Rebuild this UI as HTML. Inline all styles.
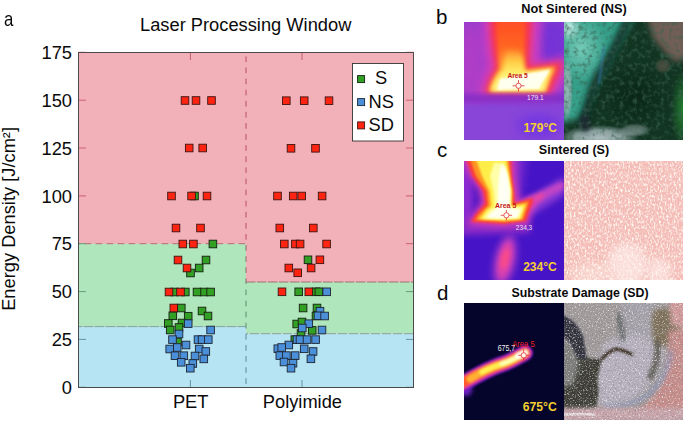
<!DOCTYPE html>
<html><head><meta charset="utf-8"><style>
html,body{margin:0;padding:0;background:#fff;}
body{width:685px;height:422px;position:relative;overflow:hidden;font-family:"Liberation Sans",sans-serif;}
.chart{position:absolute;left:0;top:0;}
.lbl{position:absolute;font-size:20.5px;line-height:24px;color:#0a0a0a;}
.ttl{position:absolute;font-weight:bold;font-size:13.2px;line-height:16px;color:#0a0a0a;white-space:nowrap;transform:translateX(-50%) scaleX(0.95);}
.ph{position:absolute;overflow:hidden;}
.ar{font-family:"Liberation Sans",sans-serif;font-size:7.4px;font-weight:bold;fill:#c41818;}
.tv{font-family:"Liberation Sans",sans-serif;font-size:7.2px;fill:#ece4f4;}
.tc{font-family:"Liberation Sans",sans-serif;font-weight:bold;font-size:13.5px;fill:#f4d030;text-anchor:middle;}
</style></head><body>
<div class="lbl" style="left:4.2px;top:6.5px;font-size:21px;transform:scaleX(0.8);transform-origin:0 0">a</div>
<svg class="chart" width="420" height="422" viewBox="0 0 420 422">
<defs><style>
.g{fill:#32a024;stroke:#142012;stroke-width:0.9}
.b{fill:#4a8fd8;stroke:#1d2533;stroke-width:0.9}
.r{fill:#ff2412;stroke:#3a1410;stroke-width:0.9}
text{font-family:"Liberation Sans",sans-serif;fill:#0a0a0a}
</style></defs>
<rect x="78.5" y="52.5" width="335.0" height="335.0" fill="#f2b1b9"/>
<rect x="78.5" y="243.7" width="167.5" height="82.9" fill="#b0e6bc"/>
<rect x="78.5" y="326.6" width="167.5" height="60.9" fill="#b6e4f2"/>
<rect x="246.0" y="282.0" width="167.5" height="51.7" fill="#b0e6bc"/>
<rect x="246.0" y="333.7" width="167.5" height="53.8" fill="#b6e4f2"/>
<line x1="78.5" y1="243.7" x2="246.0" y2="243.7" stroke="#b86a76" stroke-width="1" stroke-dasharray="6.6,4.4" stroke-dashoffset="-6.1"/>
<line x1="78.5" y1="326.6" x2="246.0" y2="326.6" stroke="#82a49a" stroke-width="1" stroke-dasharray="9.7,1.3" stroke-dashoffset="-5"/>
<line x1="246.0" y1="282.0" x2="413.5" y2="282.0" stroke="#a07070" stroke-width="1" stroke-dasharray="9.5,1.5" stroke-dashoffset="0"/>
<line x1="246.0" y1="333.7" x2="413.5" y2="333.7" stroke="#8aa49c" stroke-width="1" stroke-dasharray="9,2" stroke-dashoffset="-4"/>
<line x1="246.0" y1="52.5" x2="246.0" y2="243.7" stroke="#b8505e" stroke-width="1" stroke-dasharray="5.7,5.4" stroke-dashoffset="7.2"/>
<line x1="246.0" y1="243.7" x2="246.0" y2="282.0" stroke="#8a6a6a" stroke-width="1" stroke-dasharray="5.7,5.4" stroke-dashoffset="198.4"/>
<line x1="246.0" y1="282.0" x2="246.0" y2="326.6" stroke="#5e8a6c" stroke-width="1" stroke-dasharray="5.7,5.4" stroke-dashoffset="236.7"/>
<line x1="246.0" y1="326.6" x2="246.0" y2="333.7" stroke="#5e8a7c" stroke-width="1" stroke-dasharray="5.7,5.4" stroke-dashoffset="281.3"/>
<line x1="246.0" y1="333.7" x2="246.0" y2="387.5" stroke="#5e8696" stroke-width="1" stroke-dasharray="5.7,5.4" stroke-dashoffset="288.4"/>
<line x1="78.5" y1="387.3" x2="86.0" y2="387.3" stroke="#6a92a4" stroke-width="1"/>
<line x1="406.0" y1="387.3" x2="413.5" y2="387.3" stroke="#6a92a4" stroke-width="1"/>
<text x="72" y="393.9" font-size="18.3" text-anchor="end">0</text>
<line x1="78.5" y1="339.4" x2="86.0" y2="339.4" stroke="#6a92a4" stroke-width="1"/>
<line x1="406.0" y1="339.4" x2="413.5" y2="339.4" stroke="#6a92a4" stroke-width="1"/>
<text x="72" y="346.0" font-size="18.3" text-anchor="end">25</text>
<line x1="78.5" y1="291.6" x2="86.0" y2="291.6" stroke="#6a9a78" stroke-width="1"/>
<line x1="406.0" y1="291.6" x2="413.5" y2="291.6" stroke="#6a9a78" stroke-width="1"/>
<text x="72" y="298.2" font-size="18.3" text-anchor="end">50</text>
<line x1="78.5" y1="243.7" x2="86.0" y2="243.7" stroke="#6a9a78" stroke-width="1"/>
<line x1="406.0" y1="243.7" x2="413.5" y2="243.7" stroke="#c8606e" stroke-width="1"/>
<text x="72" y="250.3" font-size="18.3" text-anchor="end">75</text>
<line x1="78.5" y1="195.9" x2="86.0" y2="195.9" stroke="#c8606e" stroke-width="1"/>
<line x1="406.0" y1="195.9" x2="413.5" y2="195.9" stroke="#c8606e" stroke-width="1"/>
<text x="72" y="202.5" font-size="18.3" text-anchor="end">100</text>
<line x1="78.5" y1="148.0" x2="86.0" y2="148.0" stroke="#c8606e" stroke-width="1"/>
<line x1="406.0" y1="148.0" x2="413.5" y2="148.0" stroke="#c8606e" stroke-width="1"/>
<text x="72" y="154.6" font-size="18.3" text-anchor="end">125</text>
<line x1="78.5" y1="100.2" x2="86.0" y2="100.2" stroke="#c8606e" stroke-width="1"/>
<line x1="406.0" y1="100.2" x2="413.5" y2="100.2" stroke="#c8606e" stroke-width="1"/>
<text x="72" y="106.8" font-size="18.3" text-anchor="end">150</text>
<line x1="78.5" y1="52.3" x2="86.0" y2="52.3" stroke="#c8606e" stroke-width="1"/>
<line x1="406.0" y1="52.3" x2="413.5" y2="52.3" stroke="#c8606e" stroke-width="1"/>
<text x="72" y="58.9" font-size="18.3" text-anchor="end">175</text>
<line x1="190.4" y1="380.0" x2="190.4" y2="387.5" stroke="#6a92a4" stroke-width="1"/>
<line x1="190.4" y1="52.5" x2="190.4" y2="60.0" stroke="#c8606e" stroke-width="1"/>
<line x1="302" y1="380.0" x2="302" y2="387.5" stroke="#6a92a4" stroke-width="1"/>
<line x1="302" y1="52.5" x2="302" y2="60.0" stroke="#c8606e" stroke-width="1"/>
<rect class="g" x="190.7" y="192.2" width="7.6" height="7.6"/><rect class="g" x="209.1" y="240.2" width="7.6" height="7.6"/><rect class="g" x="202.2" y="256.2" width="7.6" height="7.6"/><rect class="g" x="186.7" y="269.2" width="7.6" height="7.6"/><rect class="g" x="195.4" y="264.2" width="7.6" height="7.6"/><rect class="g" x="170.7" y="288.2" width="7.6" height="7.6"/><rect class="g" x="181.5" y="288.2" width="7.6" height="7.6"/><rect class="g" x="200.2" y="288.2" width="7.6" height="7.6"/><rect class="g" x="206.8" y="288.2" width="7.6" height="7.6"/><rect class="g" x="193.2" y="288.2" width="7.6" height="7.6"/><rect class="g" x="177.5" y="304.2" width="7.6" height="7.6"/><rect class="g" x="198.2" y="307.2" width="7.6" height="7.6"/><rect class="g" x="204.2" y="312.2" width="7.6" height="7.6"/><rect class="g" x="169.0" y="312.0" width="7.6" height="7.6"/><rect class="g" x="184.4" y="312.4" width="7.6" height="7.6"/><rect class="g" x="178.2" y="319.2" width="7.6" height="7.6"/><rect class="g" x="164.5" y="319.7" width="7.6" height="7.6"/><rect class="g" x="175.2" y="323.7" width="7.6" height="7.6"/><rect class="g" x="166.4" y="326.2" width="7.6" height="7.6"/><rect class="g" x="173.7" y="338.2" width="7.6" height="7.6"/><rect class="g" x="304.2" y="256.0" width="7.6" height="7.6"/><rect class="g" x="294.9" y="288.0" width="7.6" height="7.6"/><rect class="g" x="312.2" y="288.0" width="7.6" height="7.6"/><rect class="g" x="315.1" y="288.0" width="7.6" height="7.6"/><rect class="g" x="299.3" y="304.2" width="7.6" height="7.6"/><rect class="g" x="313.2" y="304.2" width="7.6" height="7.6"/><rect class="g" x="312.2" y="312.2" width="7.6" height="7.6"/><rect class="g" x="292.9" y="320.2" width="7.6" height="7.6"/><rect class="g" x="298.2" y="318.2" width="7.6" height="7.6"/><rect class="g" x="308.4" y="326.6" width="7.6" height="7.6"/><rect class="g" x="297.2" y="329.7" width="7.6" height="7.6"/><rect class="g" x="291.0" y="335.8" width="7.6" height="7.6"/>
<rect class="b" x="184.4" y="319.8" width="7.6" height="7.6"/><rect class="b" x="206.8" y="326.2" width="7.6" height="7.6"/><rect class="b" x="175.2" y="330.2" width="7.6" height="7.6"/><rect class="b" x="168.7" y="335.8" width="7.6" height="7.6"/><rect class="b" x="194.2" y="335.8" width="7.6" height="7.6"/><rect class="b" x="198.3" y="335.8" width="7.6" height="7.6"/><rect class="b" x="204.5" y="335.8" width="7.6" height="7.6"/><rect class="b" x="182.2" y="341.2" width="7.6" height="7.6"/><rect class="b" x="165.9" y="345.2" width="7.6" height="7.6"/><rect class="b" x="173.4" y="343.7" width="7.6" height="7.6"/><rect class="b" x="195.4" y="345.2" width="7.6" height="7.6"/><rect class="b" x="202.0" y="347.7" width="7.6" height="7.6"/><rect class="b" x="171.2" y="351.9" width="7.6" height="7.6"/><rect class="b" x="180.0" y="351.9" width="7.6" height="7.6"/><rect class="b" x="191.2" y="352.2" width="7.6" height="7.6"/><rect class="b" x="200.0" y="355.1" width="7.6" height="7.6"/><rect class="b" x="177.4" y="358.5" width="7.6" height="7.6"/><rect class="b" x="189.0" y="359.7" width="7.6" height="7.6"/><rect class="b" x="186.5" y="364.4" width="7.6" height="7.6"/><rect class="b" x="322.9" y="288.0" width="7.6" height="7.6"/><rect class="b" x="316.2" y="307.4" width="7.6" height="7.6"/><rect class="b" x="314.2" y="312.0" width="7.6" height="7.6"/><rect class="b" x="320.8" y="312.2" width="7.6" height="7.6"/><rect class="b" x="305.0" y="319.9" width="7.6" height="7.6"/><rect class="b" x="298.5" y="324.2" width="7.6" height="7.6"/><rect class="b" x="318.2" y="326.2" width="7.6" height="7.6"/><rect class="b" x="293.2" y="335.8" width="7.6" height="7.6"/><rect class="b" x="296.2" y="335.8" width="7.6" height="7.6"/><rect class="b" x="303.2" y="335.8" width="7.6" height="7.6"/><rect class="b" x="311.8" y="335.8" width="7.6" height="7.6"/><rect class="b" x="285.0" y="341.2" width="7.6" height="7.6"/><rect class="b" x="274.0" y="344.9" width="7.6" height="7.6"/><rect class="b" x="277.9" y="343.7" width="7.6" height="7.6"/><rect class="b" x="300.4" y="345.0" width="7.6" height="7.6"/><rect class="b" x="309.3" y="347.7" width="7.6" height="7.6"/><rect class="b" x="276.0" y="351.8" width="7.6" height="7.6"/><rect class="b" x="282.6" y="351.8" width="7.6" height="7.6"/><rect class="b" x="291.4" y="351.8" width="7.6" height="7.6"/><rect class="b" x="307.1" y="355.0" width="7.6" height="7.6"/><rect class="b" x="280.2" y="358.2" width="7.6" height="7.6"/><rect class="b" x="289.2" y="359.4" width="7.6" height="7.6"/><rect class="b" x="287.2" y="364.4" width="7.6" height="7.6"/>
<rect class="r" x="181.2" y="96.7" width="7.6" height="7.6"/><rect class="r" x="192.2" y="96.7" width="7.6" height="7.6"/><rect class="r" x="207.7" y="96.7" width="7.6" height="7.6"/><rect class="r" x="185.4" y="144.2" width="7.6" height="7.6"/><rect class="r" x="198.9" y="144.2" width="7.6" height="7.6"/><rect class="r" x="167.7" y="192.2" width="7.6" height="7.6"/><rect class="r" x="187.8" y="192.2" width="7.6" height="7.6"/><rect class="r" x="203.2" y="192.2" width="7.6" height="7.6"/><rect class="r" x="172.2" y="224.2" width="7.6" height="7.6"/><rect class="r" x="196.7" y="224.2" width="7.6" height="7.6"/><rect class="r" x="179.0" y="240.2" width="7.6" height="7.6"/><rect class="r" x="189.6" y="240.2" width="7.6" height="7.6"/><rect class="r" x="174.2" y="256.2" width="7.6" height="7.6"/><rect class="r" x="183.2" y="264.2" width="7.6" height="7.6"/><rect class="r" x="165.2" y="288.2" width="7.6" height="7.6"/><rect class="r" x="176.7" y="288.2" width="7.6" height="7.6"/><rect class="r" x="170.0" y="304.2" width="7.6" height="7.6"/><rect class="r" x="282.5" y="96.9" width="7.6" height="7.6"/><rect class="r" x="300.4" y="96.9" width="7.6" height="7.6"/><rect class="r" x="325.2" y="96.9" width="7.6" height="7.6"/><rect class="r" x="287.2" y="144.5" width="7.6" height="7.6"/><rect class="r" x="311.7" y="144.5" width="7.6" height="7.6"/><rect class="r" x="273.7" y="192.2" width="7.6" height="7.6"/><rect class="r" x="289.4" y="192.2" width="7.6" height="7.6"/><rect class="r" x="297.9" y="192.2" width="7.6" height="7.6"/><rect class="r" x="318.3" y="192.2" width="7.6" height="7.6"/><rect class="r" x="276.0" y="224.2" width="7.6" height="7.6"/><rect class="r" x="309.5" y="224.2" width="7.6" height="7.6"/><rect class="r" x="280.5" y="240.2" width="7.6" height="7.6"/><rect class="r" x="291.6" y="240.2" width="7.6" height="7.6"/><rect class="r" x="296.3" y="240.2" width="7.6" height="7.6"/><rect class="r" x="322.8" y="240.2" width="7.6" height="7.6"/><rect class="r" x="316.1" y="256.0" width="7.6" height="7.6"/><rect class="r" x="285.0" y="264.2" width="7.6" height="7.6"/><rect class="r" x="307.3" y="264.2" width="7.6" height="7.6"/><rect class="r" x="293.9" y="269.0" width="7.6" height="7.6"/><rect class="r" x="278.2" y="288.0" width="7.6" height="7.6"/><rect class="r" x="305.0" y="288.0" width="7.6" height="7.6"/>
<rect x="78.5" y="52.5" width="335.0" height="335.0" fill="none" stroke="#4a4a4a" stroke-width="1"/>
<rect x="352.5" y="63.5" width="51" height="77.5" fill="#fff" stroke="#333" stroke-width="0.9"/>
<rect x="357.6" y="75.6" width="7" height="7" class="g"/>
<rect x="357.6" y="98.6" width="7" height="7" class="b"/>
<rect x="357.6" y="121.9" width="7" height="7" class="r"/>
<text x="381.2" y="83.8" font-size="18.3" text-anchor="middle">S</text>
<text x="381.2" y="107.7" font-size="18.3" text-anchor="middle">NS</text>
<text x="381.2" y="131.2" font-size="18.3" text-anchor="middle">SD</text>
<text x="140" y="31" font-size="18.3">Laser Processing Window</text>
<text x="190.7" y="407.6" font-size="18.3" text-anchor="middle">PET</text>
<text x="302.4" y="407.6" font-size="18.3" text-anchor="middle">Polyimide</text>
<text transform="translate(15.2,218.9) rotate(-90)" font-size="18.3" text-anchor="middle">Energy Density [J/cm²]</text>
</svg>
<div class="lbl" style="left:436px;top:5px">b</div>
<div class="lbl" style="left:437px;top:138px">c</div>
<div class="lbl" style="left:437px;top:281px">d</div>
<div class="ttl" style="left:574px;top:1px;transform:translateX(-50%) scaleX(0.966)">Not Sintered (NS)</div>
<div class="ttl" style="left:573.5px;top:141.5px">Sintered (S)</div>
<div class="ttl" style="left:579.5px;top:285px;transform:translateX(-50%) scaleX(0.936)">Substrate Damage (SD)</div>

<!-- b thermal -->
<svg class="ph" style="left:464px;top:22px" width="100" height="118" viewBox="0 0 100 118">
<defs>
<filter id="f1" x="-30%" y="-30%" width="160%" height="160%"><feGaussianBlur stdDeviation="1.2"/></filter>
<filter id="f2" x="-30%" y="-30%" width="160%" height="160%"><feGaussianBlur stdDeviation="2"/></filter>
<filter id="f3" x="-30%" y="-30%" width="160%" height="160%"><feGaussianBlur stdDeviation="3"/></filter>
<filter id="f4" x="-50%" y="-50%" width="200%" height="200%"><feGaussianBlur stdDeviation="4"/></filter>
<filter id="f7" x="-50%" y="-50%" width="200%" height="200%"><feGaussianBlur stdDeviation="7"/></filter>
<linearGradient id="bor" x1="0" y1="0" x2="0" y2="1"><stop offset="0" stop-color="#ff4a26"/><stop offset="0.4" stop-color="#ff6622"/><stop offset="0.65" stop-color="#ffa030"/><stop offset="1" stop-color="#ffd040"/></linearGradient>
<linearGradient id="byl" x1="0" y1="0" x2="0" y2="1"><stop offset="0" stop-color="#ffe050" stop-opacity="0"/><stop offset="0.35" stop-color="#ffe050" stop-opacity="0.8"/><stop offset="0.6" stop-color="#fff070"/><stop offset="1" stop-color="#fff890"/></linearGradient>
</defs>
<rect width="100" height="118" fill="#8c3cd2"/>
<ellipse cx="6" cy="40" rx="14" ry="42" fill="#b03cc6" filter="url(#f7)"/>
<ellipse cx="88" cy="22" rx="16" ry="28" fill="#7430d6" filter="url(#f7)"/>
<path d="M18,-5 L78,-5 C76,10 76,25 76,40 L104,34 L102,58 L90,74 L14,76 C14,65 16,55 22,45 C20,30 18,15 18,-5 Z" fill="#d03cbe" filter="url(#f4)"/>
<path d="M26,-5 L68,-5 C67,10 66,25 65,44 L99,40 C96,50 89,62 86,72 L21,72 C22,64 25,56 31,46 C29,30 26,15 26,-5 Z" fill="#fa364a" filter="url(#f3)"/>
<path d="M32,-5 L62,-5 C61,10 60,30 61,48 L92,44.5 C88,54 84,62 82,70 L25,70 C26,63 29,56 35,47 C34,30 32,15 32,-5 Z" fill="url(#bor)" filter="url(#f2)"/>
<path d="M42,26 C48,24 56,28 58,34 L61,50 L89,46.5 C84,55 82,62 80,69 L28,69 C30,60 33,54 39,48 C40,40 41,32 42,26 Z" fill="url(#byl)" filter="url(#f2)"/>
<path d="M36,57 C48,54 62,52 86,47.5 C82,56 77,62 75,67 L33,68 Z" fill="#fffff0" filter="url(#f1)"/>
<rect x="-5" y="72" width="110" height="8" fill="#7e2cc4" filter="url(#f2)" opacity="0.7"/>
<rect x="-5" y="83" width="110" height="40" fill="#8844d8" filter="url(#f2)"/>
<ellipse cx="75" cy="104" rx="22" ry="12" fill="#7438e0" filter="url(#f4)"/>
<text x="43.4" y="56.4" class="ar" textLength="20.4" lengthAdjust="spacingAndGlyphs">Area 5</text>
<g stroke="#d83030" stroke-width="0.8"><circle cx="54.5" cy="63.8" r="2.6" fill="#fff8f0"/><path d="M48.5,63.8H51.9M57.1,63.8H60.5M54.5,58.1V61.2M54.5,66.4V69.5" fill="none"/></g>
<text x="63.1" y="78.2" class="tv" textLength="16.5" lengthAdjust="spacingAndGlyphs">179.1</text>
<text x="76.2" y="110" class="tc" textLength="33.6" lengthAdjust="spacingAndGlyphs">179°C</text>
</svg>

<!-- b photo -->
<svg class="ph" style="left:564px;top:22px" width="119" height="118" viewBox="-1 0 119 118" preserveAspectRatio="none">
<defs>
<radialGradient id="rg1"><stop offset="0" stop-color="#74cab8"/><stop offset="1" stop-color="#74cab8" stop-opacity="0"/></radialGradient>
<radialGradient id="rg2"><stop offset="0" stop-color="#c4eee8"/><stop offset="1" stop-color="#c4eee8" stop-opacity="0"/></radialGradient>
<radialGradient id="rg3"><stop offset="0" stop-color="#0a2616"/><stop offset="1" stop-color="#0a2616" stop-opacity="0"/></radialGradient>
<radialGradient id="rg4"><stop offset="0" stop-color="#22802e"/><stop offset="1" stop-color="#22802e" stop-opacity="0"/></radialGradient>
<radialGradient id="rg5"><stop offset="0" stop-color="#aabbbd"/><stop offset="0.6" stop-color="#a4b6b8" stop-opacity="0.8"/><stop offset="1" stop-color="#a4b6b8" stop-opacity="0"/></radialGradient>
<radialGradient id="rg6"><stop offset="0" stop-color="#84685e"/><stop offset="0.6" stop-color="#7c645c" stop-opacity="0.8"/><stop offset="1" stop-color="#7c645c" stop-opacity="0"/></radialGradient>
<filter id="nzb" x="0" y="0" width="100%" height="100%"><feTurbulence type="fractalNoise" baseFrequency="0.22" numOctaves="3" seed="3"/><feColorMatrix type="matrix" values="0 0 0 0 0.04  0 0 0 0 0.12  0 0 0 0 0.08  1.8 0 0 0 -0.85"/></filter>
</defs>
<rect x="-1" width="119" height="118" fill="#123522"/>
<path d="M-5,-5 L70,-5 L56,20 L36,55 L18,95 L-5,102 Z" fill="#34a08a" filter="url(#f3)"/>
<ellipse cx="16" cy="26" rx="26" ry="34" fill="url(#rg1)"/>
<ellipse cx="4" cy="5" rx="13" ry="15" fill="url(#rg2)"/>
<path d="M82,-5 L123,-5 L123,36 L110,40 L100,30 L88,16 Z" fill="#7c645c" filter="url(#f3)" opacity="0.9"/>
<ellipse cx="98" cy="44" rx="9" ry="8" fill="url(#rg6)" opacity="0.5"/>
<path d="M64,-5 L50,25 L30,60 L18,98" stroke="#0c2c22" stroke-width="8" fill="none" filter="url(#f3)"/>
<ellipse cx="2" cy="68" rx="6" ry="32" fill="url(#rg5)" opacity="0.8"/>
<ellipse cx="34" cy="116" rx="40" ry="13" fill="url(#rg5)"/>
<ellipse cx="70" cy="108" rx="16" ry="7" fill="url(#rg5)" opacity="0.6"/>
<ellipse cx="20" cy="101" rx="6" ry="9" fill="#1c2c30" filter="url(#f2)"/>
<ellipse cx="118" cy="88" rx="12" ry="40" fill="url(#rg4)"/>
<ellipse cx="70" cy="74" rx="40" ry="36" fill="url(#rg3)"/>
<path d="M39,24 L34,62" stroke="#3a84c8" stroke-width="2" fill="none" filter="url(#f1)" opacity="0.6"/>
<path d="M96,0 L96,30" stroke="#4a8ac0" stroke-width="1.6" fill="none" filter="url(#f1)" opacity="0.4"/>
<rect x="-1" width="119" height="118" filter="url(#nzb)"/>
</svg>

<!-- c thermal -->
<svg class="ph" style="left:464px;top:161px" width="100" height="119" viewBox="0 0 100 119">
<rect width="100" height="119" fill="#4614c6"/>
<path d="M-5,-5 L6,-5 C8,20 14,40 4,70 L-5,70 Z" fill="#8a2cd0" filter="url(#f3)"/>
<path d="M48,-5 L62,-5 C60,10 58,25 55,40 L48,40 Z" fill="#7a2ad0" filter="url(#f4)"/>
<path d="M52,46 L100,16 L100,34 L58,60 Z" fill="#8c3ad4" filter="url(#f3)"/>
<path d="M50,45 C62,38 80,28 100,20 L100,28 C82,36 66,46 56,57 Z" fill="#c444c4" filter="url(#f2)"/>
<path d="M52,46 C62,40 70,36 78,32 L80,36 C70,41 62,48 56,55 Z" fill="#f04898" filter="url(#f2)"/>
<path d="M-2,60 L66,58 L66,72 L-2,74 Z" fill="#8a2cc8" filter="url(#f3)"/>
<ellipse cx="41" cy="100" rx="11" ry="27" fill="#a036c4" filter="url(#f3)" transform="rotate(12 41 100)"/>
<ellipse cx="41" cy="99" rx="7" ry="19" fill="#d840b0" filter="url(#f2)" transform="rotate(12 41 99)"/>
<ellipse cx="41" cy="98" rx="3.5" ry="11" fill="#fc4c84" filter="url(#f2)" transform="rotate(12 41 98)"/>
<path d="M-4,-5 L52,-5 L52,15 L54,30 L55,40 L70,35 L73,40 L68,50 L64,63 L40,66 L4,64 L6,56 L12,48 L17,42 L15,30 L5,15 Z" fill="#d83cb4" filter="url(#f3)" stroke-linejoin="round"/>
<path d="M1,-5 L47,-5 L48,15 L50,30 L51,42 L68,37 L69,41 L66,48 L62,60 L40,63 L7,61 L11,54 L16,48 L21,42 L19,30 L8,15 Z" fill="#fa3a3c" filter="url(#f1)" stroke-linejoin="round"/>
<path d="M5,-5 L44,-5 L46.5,15 L48.5,30 L48.5,44 L65,40 L63,47 L59,59 L40,61 L11,59 L15,53 L20,48 L24,44 L22.5,30 L12,15 Z" fill="#ff9424" filter="url(#f1)" stroke-linejoin="round"/>
<path d="M11,-5 L42,-5 L45,15 L47.5,30 L47,45 L62,43 L60,49 L57,58 L40,59.5 L15,58 L19,53 L23,48 L27,45 L25.5,30 L18,15 Z" fill="#ffee48" filter="url(#f1)" stroke-linejoin="round"/>
<path d="M30,2 L40,2 L43.5,15 L46.5,30 L46,46 L59,46 L57,51 L55,57 L40,58 L19,57.5 L23,52 L27,48 L31,46 L29.5,30 L26,15 Z" fill="#ffffa8" filter="url(#f1)" stroke-linejoin="round"/>
<path d="M37,4 L41,6 L44,15 L46,30 L45.5,47 L57,49 L55,52 L53.5,56.5 L40,57.5 L23,57 L27,52 L31,48.5 L34,46 L34,30 L35,15 Z" fill="#fffff4" filter="url(#f1)" stroke-linejoin="round"/>
<text x="31" y="47.1" class="ar" textLength="21.3" lengthAdjust="spacingAndGlyphs">Area 5</text>
<g stroke="#e03838" stroke-width="0.8"><circle cx="42.4" cy="54.3" r="2.6" fill="#fff8f0"/><path d="M36.7,54.3H39.8M45.0,54.3H48.1M42.4,49.0V51.7M42.4,56.9V59.6" fill="none"/></g>
<text x="51.8" y="69" class="tv" textLength="16.5" lengthAdjust="spacingAndGlyphs">234,3</text>
<text x="76" y="109.5" class="tc" textLength="33.7" lengthAdjust="spacingAndGlyphs">234°C</text>
</svg>

<!-- c photo -->
<svg class="ph" style="left:564px;top:161px" width="119" height="119" viewBox="-1 0 119 119" preserveAspectRatio="none">
<defs>
<filter id="nzw" x="0" y="0" width="100%" height="100%"><feTurbulence type="fractalNoise" baseFrequency="0.55 0.35" numOctaves="2" seed="4"/><feColorMatrix type="matrix" values="0 0 0 0 1  0 0 0 0 0.92  0 0 0 0 0.86  3.2 0 0 0 -1.45"/></filter>
<filter id="nzp" x="0" y="0" width="100%" height="100%"><feTurbulence type="fractalNoise" baseFrequency="0.6 0.4" numOctaves="2" seed="9"/><feColorMatrix type="matrix" values="0 0 0 0 0.93  0 0 0 0 0.6  0 0 0 0 0.64  3 0 0 0 -1.5"/></filter>
</defs>
<rect x="-1" width="119" height="119" fill="#f3bbb4"/>
<ellipse cx="62" cy="104" rx="20" ry="22" fill="#fbe0dc" filter="url(#f4)"/>
<ellipse cx="94" cy="110" rx="12" ry="12" fill="#fbe0dc" filter="url(#f4)"/>
<ellipse cx="28" cy="112" rx="22" ry="10" fill="#f8d4cc" filter="url(#f4)"/>
<rect x="-1" width="119" height="119" filter="url(#nzp)"/>
<rect x="-1" width="119" height="119" filter="url(#nzw)"/>
</svg>

<!-- d thermal -->
<svg class="ph" style="left:464px;top:303px" width="100" height="117" viewBox="0 0 100 117">
<rect width="100" height="117" fill="#05052c"/>
<ellipse cx="2" cy="86" rx="6" ry="7" fill="#7020c8" filter="url(#f2)"/>
<g fill="none" stroke-linecap="round" filter="url(#f1)">
<path d="M-2,81 C10,74 25,65 40,60.5 C50,57 56,52.5 61,50" stroke="#6a1cc0" stroke-width="16"/>
<path d="M-2,80.5 C10,73.5 25,65 40,60.5 C50,57 56,52.5 61,50" stroke="#e0349c" stroke-width="13"/>
<path d="M-2,80 C10,73 25,65 40,60.5 C50,57 56,52.5 61,50" stroke="#ff5a2c" stroke-width="10"/>
<path d="M6,76 C14,71 25,65 40,60.5 C50,57 56,52.5 61,50" stroke="#ffb030" stroke-width="7"/>
<path d="M18,69 C28,64 34,62 40,60.5 C50,57 56,52.5 61,50" stroke="#ffee50" stroke-width="5.6"/>
<path d="M38,60.5 C50,57 56,52.5 61,50" stroke="#ffffb0" stroke-width="4.5"/>
<path d="M54,53 C57,51.5 59,50.5 61,50" stroke="#fffff4" stroke-width="6"/>
</g>
<text x="33.7" y="48.3" class="tv" style="font-size:8.6px;fill:#f0f0f0" textLength="17.5" lengthAdjust="spacingAndGlyphs">675,7</text>
<text x="48.3" y="44" style="font-family:'Liberation Sans',sans-serif;font-size:8.8px;fill:#f02020" textLength="22.3" lengthAdjust="spacingAndGlyphs">Area 5</text>
<g stroke="#e02828" stroke-width="0.8"><circle cx="59.7" cy="52.3" r="2.6" fill="#fff8f0"/><path d="M54.2,52.3H57.1M62.3,52.3H65.2M59.7,46.3V49.7M59.7,54.9V58.3" fill="none"/></g>
<text x="75.8" y="108.3" class="tc" textLength="34" lengthAdjust="spacingAndGlyphs">675°C</text>
</svg>

<!-- d photo -->
<svg class="ph" style="left:564px;top:303px" width="119" height="117" viewBox="-1 0 119 117" preserveAspectRatio="none">
<defs>
<filter id="nzg" x="0" y="0" width="100%" height="100%"><feTurbulence type="fractalNoise" baseFrequency="0.7" numOctaves="2" seed="7"/><feColorMatrix type="matrix" values="0 0 0 0 0.95  0 0 0 0 0.95  0 0 0 0 0.97  2.6 0 0 0 -1.4"/></filter>
<filter id="nzd" x="0" y="0" width="100%" height="100%"><feTurbulence type="fractalNoise" baseFrequency="0.7" numOctaves="2" seed="12"/><feColorMatrix type="matrix" values="0 0 0 0 0.2  0 0 0 0 0.2  0 0 0 0 0.22  2.2 0 0 0 -1.2"/></filter>
</defs>
<rect x="-1" width="119" height="117" fill="#a09a9a"/>
<path d="M56,-5 L90,-5 L92,40 L60,40 Z" fill="#a6a2aa" filter="url(#f3)"/>
<path d="M40,40 C60,30 85,30 96,45 C100,60 90,80 70,95 C55,104 42,106 34,102 C30,80 32,55 40,40 Z" fill="#b6b0be" filter="url(#f3)"/>
<path d="M-5,58 C4,56 12,50 20,54 C26,57 32,54 37,57 C35,66 31,74 33,82 C35,92 30,100 32,106 L-5,108 Z" fill="#3c3e36" filter="url(#f1)"/>
<path d="M-5,38 C4,40 10,44 13,52 C14,62 12,72 8,82 L-5,84 Z" fill="#7e7e7c" filter="url(#f2)"/>
<path d="M-2,12 C7,16 14,23 18,33 L22,56 L12,56 C9,46 5,38 -2,34 Z" fill="#30303c" filter="url(#f1)"/>
<path d="M36,57 C40,52 46,47 52,46 C58,47 62,49 68,52" stroke="#3e3028" stroke-width="3.5" fill="none" filter="url(#f1)"/>
<path d="M53,10 C55,20 57,28 59,38" stroke="#404a48" stroke-width="4.5" fill="none" filter="url(#f2)" opacity="0.75"/>
<path d="M88,8 C96,4 108,6 114,10 L116,40 C108,44 98,44 90,40 C86,30 86,18 88,8 Z" fill="#7e7058" filter="url(#f2)"/>
<path d="M104,-5 L123,-5 L123,26 L106,22 Z" fill="#d09898" filter="url(#f2)"/>
<path d="M103,28 L123,24 L123,112 L70,112 C80,100 95,90 100,72 C104,58 104,42 103,28 Z" fill="#c68c8a" filter="url(#f2)"/>
<path d="M106,48 C104,66 96,82 80,94 C66,102 52,104 40,104" stroke="#8c96bc" stroke-width="4" fill="none" filter="url(#f2)" opacity="0.8"/>
<path d="M92,38 C94,52 90,66 84,76" stroke="#3a3a2a" stroke-width="6" fill="none" filter="url(#f2)" opacity="0.75"/>
<path d="M-5,105 L123,105 L123,118 L-5,118 Z" fill="#c8a4aa" filter="url(#f2)"/>
<path d="M-2,112 C10,110 20,110 30,112" stroke="#f4f0f4" stroke-width="2.5" fill="none" filter="url(#f1)"/>
<rect x="-1" width="119" height="117" filter="url(#nzg)"/>
<rect x="-1" width="119" height="117" filter="url(#nzd)"/>
</svg>

</body></html>
